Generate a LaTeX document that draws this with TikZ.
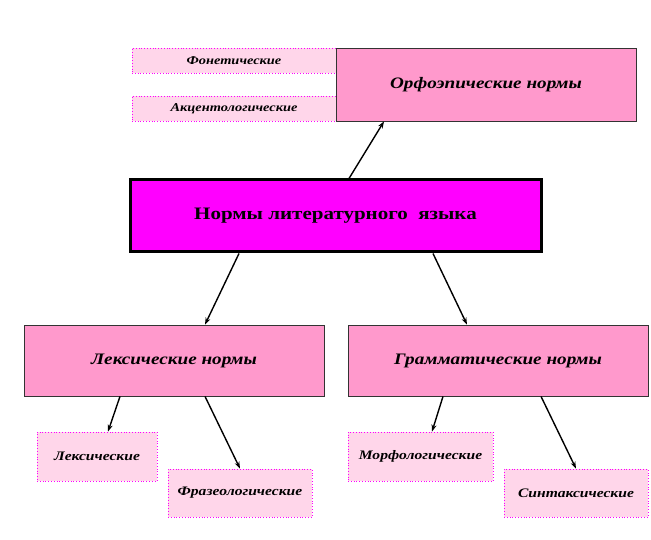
\documentclass[tikz,border=0pt]{standalone}
\usepackage{fontspec}
\setmainfont{Liberation Serif}[FakeStretch=1.2]
\usetikzlibrary{arrows.meta}
\definecolor{P1}{RGB}{255,153,204}
\definecolor{P2}{RGB}{255,214,234}
\definecolor{M1}{RGB}{255,0,255}
\tikzset{
  norm/.style={draw=black!80, line width=0.8pt, fill=P1, inner sep=0pt, font=\fontsize{16}{16}\selectfont\bfseries\itshape},
  sub/.style={draw=M1, dotted, line width=0.8pt, fill=P2, inner sep=0pt, font=\fontsize{13}{13}\selectfont\bfseries\itshape},
  arr/.style={line width=1.4pt, -{Stealth[length=7pt,width=5pt]}},
}
\begin{document}
\begin{tikzpicture}[x=1pt, y=-1pt]
      \useasboundingbox (0,0) rectangle (651,540);
      % top block
      \node[sub, font=\fontsize{12}{12}\selectfont\bfseries\itshape, minimum width=204pt, minimum height=25pt] (fon) at (234,60.5) {Фонетические};
      \node[sub, font=\fontsize{12}{12}\selectfont\bfseries\itshape, minimum width=204pt, minimum height=25pt] (akc) at (234,108.5) {Акцентологические};
      \node[norm, minimum width=300pt, minimum height=73pt] (orfo) at (486,84.5) {Орфоэпические нормы};
      % main box
      \node[draw=black, line width=3pt, fill=M1, minimum width=411pt, minimum height=72pt,
            font=\fontsize{17.5}{17.5}\selectfont\bfseries] (main) at (335.5,216) {Нормы литературного\ \ языка};
      % second level
      \node[norm, minimum width=300pt, minimum height=71pt] (lex) at (174,360.5) {Лексические нормы};
      \node[norm, minimum width=300pt, minimum height=71pt] (gram) at (498,360.5) {Грамматические нормы};
      % bottom
      \node[sub, minimum width=120pt, minimum height=49pt] (lexsm) at (97,456.5) {Лексические};
      \node[sub, minimum width=144pt, minimum height=48pt] (fraz) at (240,493) {Фразеологические};
      \node[sub, minimum width=145pt, minimum height=49pt] (morf) at (420.5,456.5) {Морфологические};
      \node[sub, minimum width=144pt, minimum height=48pt] (sint) at (576,493) {Синтаксические};
      % arrows
      \draw[arr] ([xshift=13.5pt]main.north) -- ([xshift=-102pt]orfo.south);
      \draw[arr] ([xshift=-96.5pt]main.south) -- ([xshift=31pt]lex.north);
      \draw[arr] ([xshift=97.5pt]main.south) -- ([xshift=-31pt]gram.north);
      \draw[arr] ([xshift=-54pt]lex.south) -- ([xshift=11pt]lexsm.north);
      \draw[arr] ([xshift=31pt]lex.south) -- (fraz.north);
      \draw[arr] ([xshift=-55pt]gram.south) -- ([xshift=11.5pt]morf.north);
      \draw[arr] ([xshift=43pt]gram.south) -- (sint.north);
    \end{tikzpicture}
\end{document}
